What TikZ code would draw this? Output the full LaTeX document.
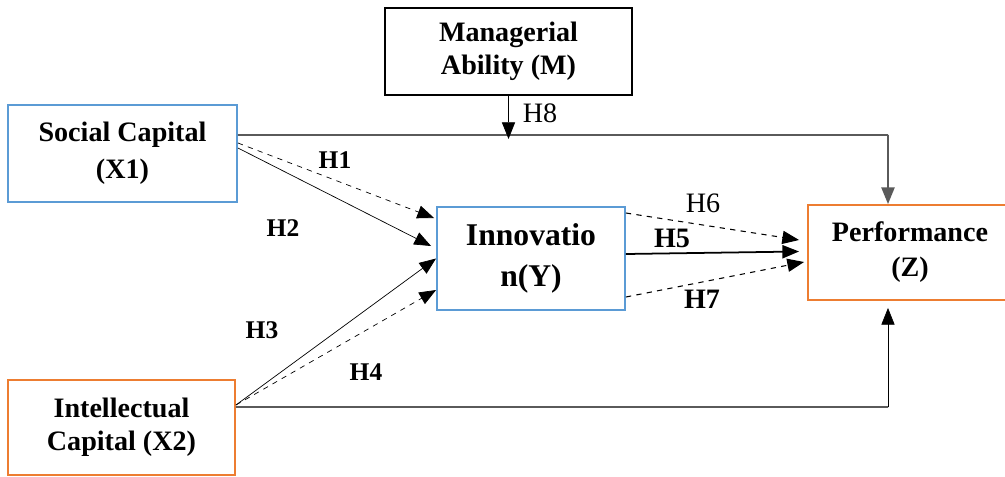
\documentclass[tikz,border=0pt]{standalone}
\usepackage{fontspec}
\setmainfont{Liberation Serif}
\usetikzlibrary{arrows.meta,calc}
\definecolor{boxblue}{RGB}{91,155,213}
\definecolor{boxorange}{RGB}{237,125,49}
\definecolor{linegrey}{RGB}{90,90,90}
\tikzset{
  var/.style={draw,align=center,line width=1.1pt,inner sep=2pt,font=\fontsize{16}{21}\selectfont\bfseries},
  tip/.style={-{Triangle[length=9.5pt,width=7.5pt]}},
  hlab/.style={font=\fontsize{14.5}{17}\selectfont\bfseries},
  hlabr/.style={font=\fontsize{16}{18}\selectfont}
}

\begin{document}
\begin{tikzpicture}[x=0.02cm,y=-0.02cm]
\useasboundingbox (0,0) rectangle (1005,477);
\node[var,minimum width=4.94cm,minimum height=1.74cm,font=\fontsize{16}{19}\selectfont\bfseries] (mgr) at (508.5,51.5){Managerial\\Ability (M)};
\node[var,draw=boxblue,minimum width=4.58cm,minimum height=1.94cm] (soc) at (122.5,153.5){Social Capital\\(X1)};
\node[var,draw=boxblue,minimum width=3.76cm,minimum height=2.06cm,font=\fontsize{18}{23}\selectfont\bfseries] (inn) at (531,258.5){Innovatio\\n(Y)};
\node[var,draw=boxorange,minimum width=4.08cm,minimum height=1.9cm,font=\fontsize{16}{20}\selectfont\bfseries] (perf) at (910,252.5){Performance\\(Z)};
\node[var,draw=boxorange,minimum width=4.54cm,minimum height=1.9cm,font=\fontsize{16}{19}\selectfont\bfseries] (ic) at (121.5,427.5){Intellectual\\Capital (X2)};
\coordinate (c1) at (888,135);
\coordinate (c2) at (888,407);
\draw[linegrey,line width=1.1pt] ([yshift=0.37cm]soc.east) -- (c1);
\draw[linegrey,line width=1.1pt,tip] (c1) -- (c1 |- perf.north);
\draw[tip] (mgr.south) -- ([yshift=-0.08cm]mgr.south |- c1);
\draw[dashed,tip] ([yshift=0.21cm]soc.east) -- ([yshift=0.81cm,xshift=-0.04cm]inn.west);
\draw[tip] ([yshift=0.11cm]soc.east) -- ([yshift=0.25cm,xshift=-0.1cm]inn.west);
\draw[tip] ([yshift=0.45cm]ic.east) -- (inn.west);
\draw[dashed,tip] ([yshift=0.45cm]ic.east) -- ([yshift=-0.63cm]inn.west);
\draw[dashed,line width=0.6pt,tip] ([yshift=0.91cm]inn.east) -- ([yshift=0.25cm,xshift=-0.16cm]perf.west);
\draw[line width=1pt,tip] ([yshift=0.09cm]inn.east) -- ([yshift=0.02cm,xshift=-0.16cm]perf.west);
\draw[dashed,line width=0.6pt,tip] ([yshift=-0.77cm]inn.east) -- ([yshift=-0.19cm,xshift=-0.06cm]perf.west);
\draw[linegrey,line width=1.1pt] ([yshift=0.41cm]ic.east) -- (c2);
\draw[tip] (c2) -- ([yshift=-0.14cm]c2 |- perf.south);
\node[hlab] (h1) at (335,160){H1};
\node[hlab] (h2) at (283,228){H2};
\node[hlab] (h3) at (262,330){H3};
\node[hlab] (h4) at (366,372){H4};
\node[hlab,font=\fontsize{16}{18}\selectfont\bfseries] (h5) at (672,238){H5};
\node[hlabr] (h6) at (703,203){H6};
\node[hlab,font=\fontsize{16}{18}\selectfont\bfseries] (h7) at (702,299){H7};
\node[hlabr] (h8) at (540,113){H8};
\end{tikzpicture}
\end{document}
